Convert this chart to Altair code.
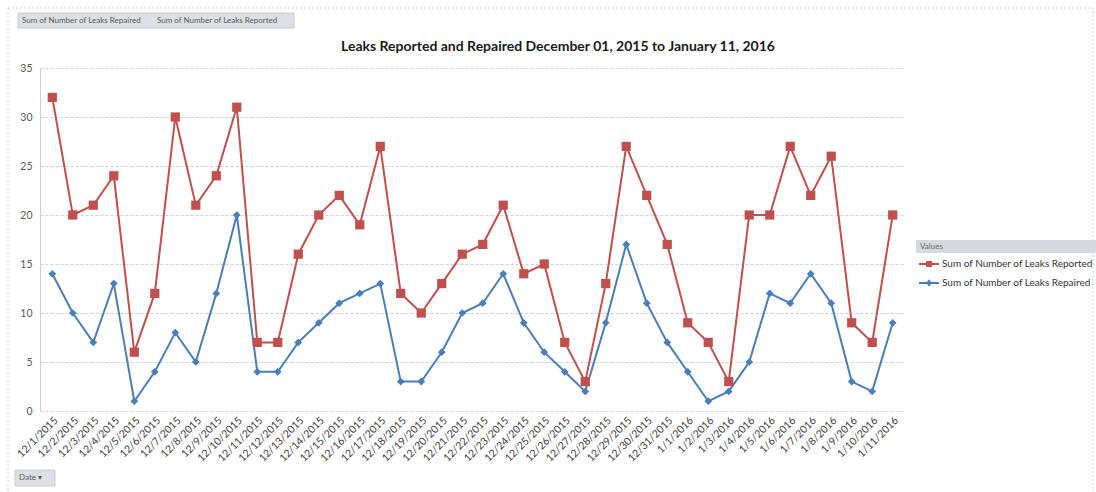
import altair as alt
import pandas as pd

dates = ["12/1/2015", "12/2/2015", "12/3/2015", "12/4/2015", "12/5/2015", "12/6/2015",
         "12/7/2015", "12/8/2015", "12/9/2015", "12/10/2015", "12/11/2015", "12/12/2015",
         "12/13/2015", "12/14/2015", "12/15/2015", "12/16/2015", "12/17/2015", "12/18/2015",
         "12/19/2015", "12/20/2015", "12/21/2015", "12/22/2015", "12/23/2015", "12/24/2015",
         "12/25/2015", "12/26/2015", "12/27/2015", "12/28/2015", "12/29/2015", "12/30/2015",
         "12/31/2015", "1/1/2016", "1/2/2016", "1/3/2016", "1/4/2016", "1/5/2016",
         "1/6/2016", "1/7/2016", "1/8/2016", "1/9/2016", "1/10/2016", "1/11/2016"]

reported = [32, 20, 21, 24, 6, 12, 30, 21, 24, 31, 7, 7, 16, 20, 22, 19, 27, 12, 10, 13, 16,
            17, 21, 14, 15, 7, 3, 13, 27, 22, 17, 9, 7, 3, 20, 20, 27, 22, 26, 9, 7, 20]
repaired = [14, 10, 7, 13, 1, 4, 8, 5, 12, 20, 4, 4, 7, 9, 11, 12, 13, 3, 3, 6, 10,
            11, 14, 9, 6, 4, 2, 9, 17, 11, 7, 4, 1, 2, 5, 12, 11, 14, 11, 3, 2, 9]

series_names = ["Sum of Number of Leaks Reported", "Sum of Number of Leaks Repaired"]
series_colors = ["#C0504D", "#4A7EBB"]
title_text = "Leaks Reported and Repaired December 01, 2015 to January 11, 2016"
y_ticks = [0, 5, 10, 15, 20, 25, 30, 35]

rows = []
for d, r, p in zip(dates, reported, repaired):
    rows.append({"Date": d, "Series": series_names[0], "Value": r})
    rows.append({"Date": d, "Series": series_names[1], "Value": p})
df = pd.DataFrame(rows)

FONT = "Lato"
W, H = 865, 343

# legend symbols: a short line with the marker on it
legend_paths = ["M-2,-0.2H2V0.2H-2ZM-0.6,-0.6H0.6V0.6H-0.6Z",
                "M-2,-0.2H2V0.2H-2ZM0,-0.75L0.55,0L0,0.75L-0.55,0Z"]

x = alt.X("Date:O", sort=dates, scale=alt.Scale(type="point", padding=0.6),
          axis=alt.Axis(title=None, labelAngle=-45, labelFont=FONT, labelFontSize=10.5,
                        labelColor="#404040", domain=False, ticks=False, grid=False,
                        labelPadding=4, labelOverlap=False))
y = alt.Y("Value:Q", scale=alt.Scale(domain=[0, 35], nice=False),
          axis=alt.Axis(title=None, values=y_ticks, labelFont=FONT, labelFontSize=10.5,
                        labelColor="#595959", ticks=False, domain=True, domainColor="#d0d0d0",
                        domainWidth=1, grid=True, gridColor="#c9d2e0", gridDash=[3, 2],
                        gridWidth=1, labelPadding=8))

leg = alt.Legend(title=None, orient="none", legendX=884, legendY=191,
                 labelFont=FONT, labelFontSize=10, labelColor="#333333",
                 labelLimit=300, labelOffset=8, rowPadding=9, symbolSize=100,
                 symbolOpacity=1, symbolStrokeWidth=0)

color_enc = alt.Color("Series:N", scale=alt.Scale(domain=series_names, range=series_colors), legend=leg)
shape_enc = alt.Shape("Series:N", scale=alt.Scale(domain=series_names, range=legend_paths), legend=leg)

base = alt.Chart(df)
lines = base.mark_line(strokeWidth=2).encode(x=x, y=y, color=color_enc)
pts_rep = base.transform_filter(alt.datum.Series == series_names[0]).mark_point(
    filled=True, opacity=1, shape="square", size=85).encode(x=x, y=y, color=color_enc)
pts_fix = base.transform_filter(alt.datum.Series == series_names[1]).mark_point(
    filled=True, opacity=1, shape="diamond", size=60).encode(x=x, y=y, color=color_enc)
# legend source: invisible points carrying the legend shapes
legend_layer = base.mark_point(filled=True, opacity=1, size=0).encode(
    x=x, y=y, color=color_enc, shape=shape_enc)

one = pd.DataFrame({"k": [0]})
deco = alt.Chart(one)

border = deco.mark_rect(fill=None, stroke="#d0d0d0", strokeWidth=1, strokeDash=[2, 2]).encode(
    x=alt.value(-32), x2=alt.value(1053), y=alt.value(-60), y2=alt.value(440))
btn_top = deco.mark_rect(fill="#dcdfe3", stroke="#c8ccd2").encode(
    x=alt.value(-22), x2=alt.value(254), y=alt.value(-55), y2=alt.value(-40))
btn_top_t1 = deco.mark_text(text="Sum of Number of Leaks Repaired", align="left", baseline="middle",
                            font=FONT, fontSize=8, color="#5a5a5a").encode(x=alt.value(-18), y=alt.value(-47.5))
btn_top_t2 = deco.mark_text(text="Sum of Number of Leaks Reported", align="left", baseline="middle",
                            font=FONT, fontSize=8, color="#5a5a5a").encode(x=alt.value(117), y=alt.value(-47.5))
btn_date = deco.mark_rect(fill="#dcdfe3", stroke="#c8ccd2").encode(
    x=alt.value(-25), x2=alt.value(15), y=alt.value(402), y2=alt.value(418))
btn_date_t = deco.mark_text(text="Date  ▾", align="left", baseline="middle",
                            font=FONT, fontSize=8, color="#5a5a5a").encode(x=alt.value(-21), y=alt.value(410))
values_hdr = deco.mark_rect(fill="#d6d9dd").encode(
    x=alt.value(876), x2=alt.value(1056), y=alt.value(172), y2=alt.value(185))
values_t = deco.mark_text(text="Values", align="left", baseline="middle",
                          font=FONT, fontSize=8, color="#6a6a6a").encode(x=alt.value(880), y=alt.value(178.5))
title_mark = deco.mark_text(text=title_text, align="center", baseline="alphabetic", font=FONT,
                            fontSize=14, fontWeight="bold", color="#1a1a1a").encode(
    x=alt.value(518), y=alt.value(-17))

chart = alt.layer(border, btn_top, btn_top_t1, btn_top_t2, btn_date, btn_date_t, values_hdr, values_t,
                  title_mark, lines, pts_rep, pts_fix, legend_layer).properties(
    width=W, height=H,
    background="white",
    autosize=alt.AutoSizeParams(type="none"),
    padding={"left": 40, "top": 68, "right": 191, "bottom": 81},
).configure_view(stroke=None)

chart.save("out.html", embed_options={"renderer": "svg", "actions": False})
